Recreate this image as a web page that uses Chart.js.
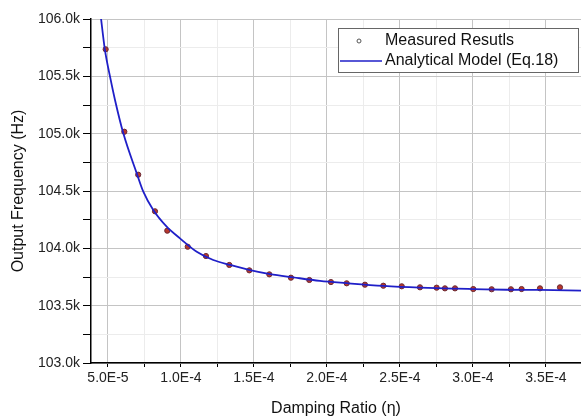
<!DOCTYPE html>
<html>
<head>
<meta charset="utf-8">
<script src="https://cdn.jsdelivr.net/npm/chart.js@4"></script>
<style>
  html, body { margin: 0; padding: 0; background: #fff; }
  #wrap { width: 581px; height: 418px; }
</style>
</head>
<body>
<div id="wrap"><canvas id="freqChart" width="581" height="418"></canvas></div>
<script>
// === Data ===
const measuredEta = [4.84e-5, 6.12e-5, 7.07e-5, 8.22e-5, 9.06e-5, 1.046e-4, 1.171e-4, 1.331e-4, 1.468e-4,
  1.605e-4, 1.753e-4, 1.879e-4, 2.027e-4, 2.135e-4, 2.260e-4, 2.386e-4, 2.512e-4, 2.637e-4,
  2.751e-4, 2.808e-4, 2.877e-4, 3.002e-4, 3.128e-4, 3.260e-4, 3.333e-4, 3.459e-4, 3.596e-4];
const measuredFreq = [105736, 105017, 104642, 104323, 104154, 104014, 103933, 103855, 103808,
  103773, 103744, 103724, 103706, 103695, 103683, 103674, 103669, 103660,
  103657, 103651, 103651, 103645, 103643, 103643, 103645, 103651, 103660];

const modelEta = [4.48e-5, 4.79e-5, 5.14e-5, 5.48e-5, 6.05e-5, 6.97e-5, 7.42e-5, 8.10e-5, 9.02e-5,
  9.93e-5, 1.108e-4, 1.221e-4, 1.336e-4, 1.473e-4, 1.610e-4, 1.769e-4, 1.952e-4, 2.135e-4,
  2.386e-4, 2.637e-4, 2.888e-4, 3.002e-4, 3.231e-4, 3.459e-4, 3.74e-4];
const modelFreq = [106050, 105730, 105497, 105294, 105003, 104654, 104494, 104334, 104189,
  104087, 103970, 103898, 103855, 103811, 103776, 103747, 103716, 103696,
  103672, 103657, 103648, 103645, 103639, 103637, 103631];

const xMajorTicks = [5.0e-5, 1.0e-4, 1.5e-4, 2.0e-4, 2.5e-4, 3.0e-4, 3.5e-4];
const xTickLabels = ['5.0E-5', '1.0E-4', '1.5E-4', '2.0E-4', '2.5E-4', '3.0E-4', '3.5E-4'];
const xMinorTicks = [7.5e-5, 1.25e-4, 1.75e-4, 2.25e-4, 2.75e-4, 3.25e-4];

const yMajorTicks = [103000, 103500, 104000, 104500, 105000, 105500, 106000];
const yTickLabels = ['103.0k', '103.5k', '104.0k', '104.5k', '105.0k', '105.5k', '106.0k'];
const yMinorTicks = [103250, 103750, 104250, 104750, 105250, 105750];

const seriesNames = ['Measured Resutls', 'Analytical Model (Eq.18)'];

// merge major + minor ticks into one sorted list
function buildTicks(major, labels, minor) {
  const all = major.map((v, i) => ({ value: v, major: true, label: labels[i] }))
    .concat(minor.map(v => ({ value: v, major: false, label: '' })));
  return all.sort((a, b) => a.value - b.value);
}
const xTicks = buildTicks(xMajorTicks, xTickLabels, xMinorTicks);
const yTicks = buildTicks(yMajorTicks, yTickLabels, yMinorTicks);

const FONT = "'Liberation Sans', Arial, sans-serif";

// legend box drawn inside the plot, top right
const insideLegend = {
  id: 'insideLegend',
  afterDraw(chart) {
    const ctx = chart.ctx;
    ctx.save();
    ctx.fillStyle = '#fff';
    ctx.strokeStyle = '#666';
    ctx.lineWidth = 1;
    ctx.fillRect(338.5, 28.5, 240, 44);
    ctx.strokeRect(338.5, 28.5, 240, 44);

    // marker
    ctx.beginPath();
    ctx.arc(359, 41, 2, 0, Math.PI * 2);
    ctx.strokeStyle = '#555';
    ctx.stroke();
    // line
    ctx.beginPath();
    ctx.moveTo(340, 61);
    ctx.lineTo(382, 61);
    ctx.strokeStyle = '#1f1fc8';
    ctx.lineWidth = 1.5;
    ctx.stroke();

    ctx.fillStyle = '#111';
    ctx.font = '16px ' + FONT;
    ctx.textBaseline = 'middle';
    ctx.fillText(seriesNames[0], 385, 41);
    ctx.fillText(seriesNames[1], 385, 61);
    ctx.restore();
  }
};

const ctx = document.getElementById('freqChart').getContext('2d');
new Chart(ctx, {
  type: 'scatter',
  data: {
    datasets: [
      {
        label: seriesNames[1],
        data: modelEta.map((x, i) => ({ x: x, y: modelFreq[i] })),
        showLine: true,
        borderColor: '#1f1fc8',
        borderWidth: 1.8,
        pointRadius: 0,
        cubicInterpolationMode: 'monotone'
      },
      {
        label: seriesNames[0],
        data: measuredEta.map((x, i) => ({ x: x, y: measuredFreq[i] })),
        pointRadius: 2.6,
        pointBackgroundColor: '#b8382c',
        pointBorderColor: '#6a2a34',
        pointBorderWidth: 1
      }
    ]
  },
  options: {
    responsive: false,
    animation: false,
    layout: { autoPadding: false, padding: { top: 19, left: 0, right: 0, bottom: 0 } },
    plugins: { legend: { display: false }, tooltip: { enabled: false } },
    scales: {
      x: {
        type: 'linear',
        min: 3.836e-5,
        max: 3.74e-4,
        afterBuildTicks: (scale) => { scale.ticks = xTicks.map(t => ({ value: t.value, major: t.major })); },
        afterFit: (scale) => {
          scale.height = 55;
          scale.paddingLeft = 0; scale.paddingRight = 0;
        },
        ticks: {
          autoSkip: false,
          maxRotation: 0,
          padding: 3,
          color: '#222',
          font: { family: FONT, size: 14 },
          callback: (v, i) => xTicks[i].label
        },
        grid: {
          color: (c) => (c.tick && c.tick.major) ? '#c4c4c4' : '#ececec',
          tickColor: '#000',
          tickLength: 4
        },
        border: { color: '#000', width: 1.5 },
        title: {
          display: true,
          text: 'Damping Ratio (\u03b7)',
          color: '#111',
          font: { family: FONT, size: 16 },
          padding: { top: 0, bottom: 0 }
        }
      },
      y: {
        min: 103000,
        max: 106000,
        afterBuildTicks: (scale) => { scale.ticks = yTicks.map(t => ({ value: t.value, major: t.major })); },
        afterFit: (scale) => {
          scale.width = 91;
          scale.paddingTop = 0; scale.paddingBottom = 0;
        },
        ticks: {
          autoSkip: false,
          padding: 3,
          color: '#222',
          font: { family: FONT, size: 14 },
          callback: (v, i) => yTicks[i].label
        },
        grid: {
          color: (c) => (c.tick && c.tick.major) ? '#c4c4c4' : '#ececec',
          tickColor: '#000',
          tickLength: 8
        },
        border: { color: '#000', width: 1.5 },
        title: {
          display: true,
          text: 'Output Frequency (Hz)',
          color: '#111',
          font: { family: FONT, size: 16 },
          padding: { top: 9, bottom: 0 }
        }
      }
    }
  },
  plugins: [insideLegend]
});
</script>
</body>
</html>
